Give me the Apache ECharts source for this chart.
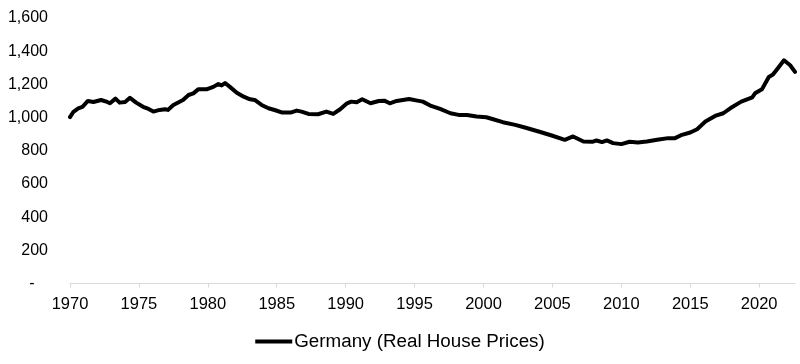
<!DOCTYPE html>
<html>
<head>
<meta charset="utf-8">
<script src="https://cdn.jsdelivr.net/npm/echarts@6/dist/echarts.min.js"></script>
<style>html,body{margin:0;padding:0;background:#fff}#c{width:800px;height:364px}</style>
</head>
<body>
<div id="c"></div>
<script>
var seriesName = 'Germany (Real House Prices)';
var years = [1970.0,1970.25,1970.6,1970.9,1971.3,1971.7,1972.25,1972.7,1972.9,1973.3,1973.6,1974.0,1974.35,1974.8,1975.3,1975.7,1976.05,1976.5,1976.9,1977.1,1977.5,1978.2,1978.6,1978.95,1979.3,1979.9,1980.4,1980.76,1981.0,1981.25,1981.6,1982.1,1982.6,1983.06,1983.4,1983.9,1984.4,1984.9,1985.4,1986.0,1986.45,1986.8,1987.3,1988.0,1988.6,1989.1,1989.6,1990.1,1990.4,1990.8,1991.2,1991.8,1992.4,1992.8,1993.2,1993.7,1994.6,1995.2,1995.6,1996.2,1996.85,1997.6,1998.2,1998.8,1999.5,2000.2,2000.7,2001.4,2002.3,2003.0,2004.0,2004.95,2005.9,2006.5,2007.25,2007.9,2008.2,2008.6,2008.95,2009.4,2010.0,2010.6,2011.2,2011.85,2012.6,2013.4,2013.9,2014.4,2015.0,2015.5,2016.1,2016.8,2017.4,2017.9,2018.7,2019.5,2019.7,2020.2,2020.7,2021.0,2021.4,2021.8,2022.25,2022.6];
var values = [1003,1035,1056,1065,1100,1094,1106,1094,1086,1114,1090,1094,1119,1090,1065,1052,1036,1046,1050,1046,1076,1106,1136,1146,1170,1170,1185,1202,1194,1208,1185,1150,1126,1110,1106,1076,1056,1044,1030,1030,1042,1036,1022,1020,1036,1022,1050,1086,1096,1092,1110,1086,1100,1102,1086,1100,1112,1102,1096,1070,1052,1026,1016,1016,1006,1002,990,972,956,940,916,892,866,886,856,854,862,852,862,846,840,854,850,856,866,876,876,896,910,930,976,1010,1026,1056,1096,1122,1146,1170,1245,1259,1302,1345,1315,1275];
var xTicks = [1970,1975,1980,1985,1990,1995,2000,2005,2010,2015,2020];
var yTicks = [0,200,400,600,800,1000,1200,1400,1600];

var data = years.map(function(y,i){return [y, values[i]];});
var chart = echarts.init(document.getElementById('c'));
var font = '"Liberation Sans", Arial, sans-serif';
chart.setOption({
  animation: false,
  grid: {left: 70, right: 5, top: 18, bottom: 80.5, containLabel: false},
  xAxis: {
    type: 'value', min: 1970, max: 2022.6, interval: 5,
    axisLine: {show: true, lineStyle: {color: '#d9d9d9', width: 1}},
    axisTick: {show: true, length: 4, lineStyle: {color: '#d9d9d9'}, customValues: xTicks},
    axisLabel: {color: '#000', fontSize: 16.5, fontFamily: font, margin: 12, customValues: xTicks,
      formatter: function(v){ return String(Math.round(v)); }},
    splitLine: {show: false}
  },
  yAxis: {
    type: 'value', min: 0, max: 1600, interval: 200,
    axisLine: {show: false}, axisTick: {show: false},
    splitLine: {show: false},
    axisLabel: {color: '#000', fontSize: 16, fontFamily: font, margin: 22,
      formatter: function(v){ return v === 0 ? '-   ' : v.toLocaleString('en-US'); }}
  },
  legend: {
    bottom: 8, left: 'center',
    icon: 'rect', itemWidth: 37, itemHeight: 4, itemGap: 10,
    textStyle: {color: '#000', fontSize: 18.8, fontFamily: font, padding: [0,0,0,-3]},
    data: [seriesName]
  },
  series: [{
    name: seriesName, type: 'line', data: data, showSymbol: false, symbol: 'none',
    lineStyle: {color: '#000', width: 4, join: 'round', cap: 'round'},
    itemStyle: {color: '#000'}
  }]
});
</script>
</body>
</html>
